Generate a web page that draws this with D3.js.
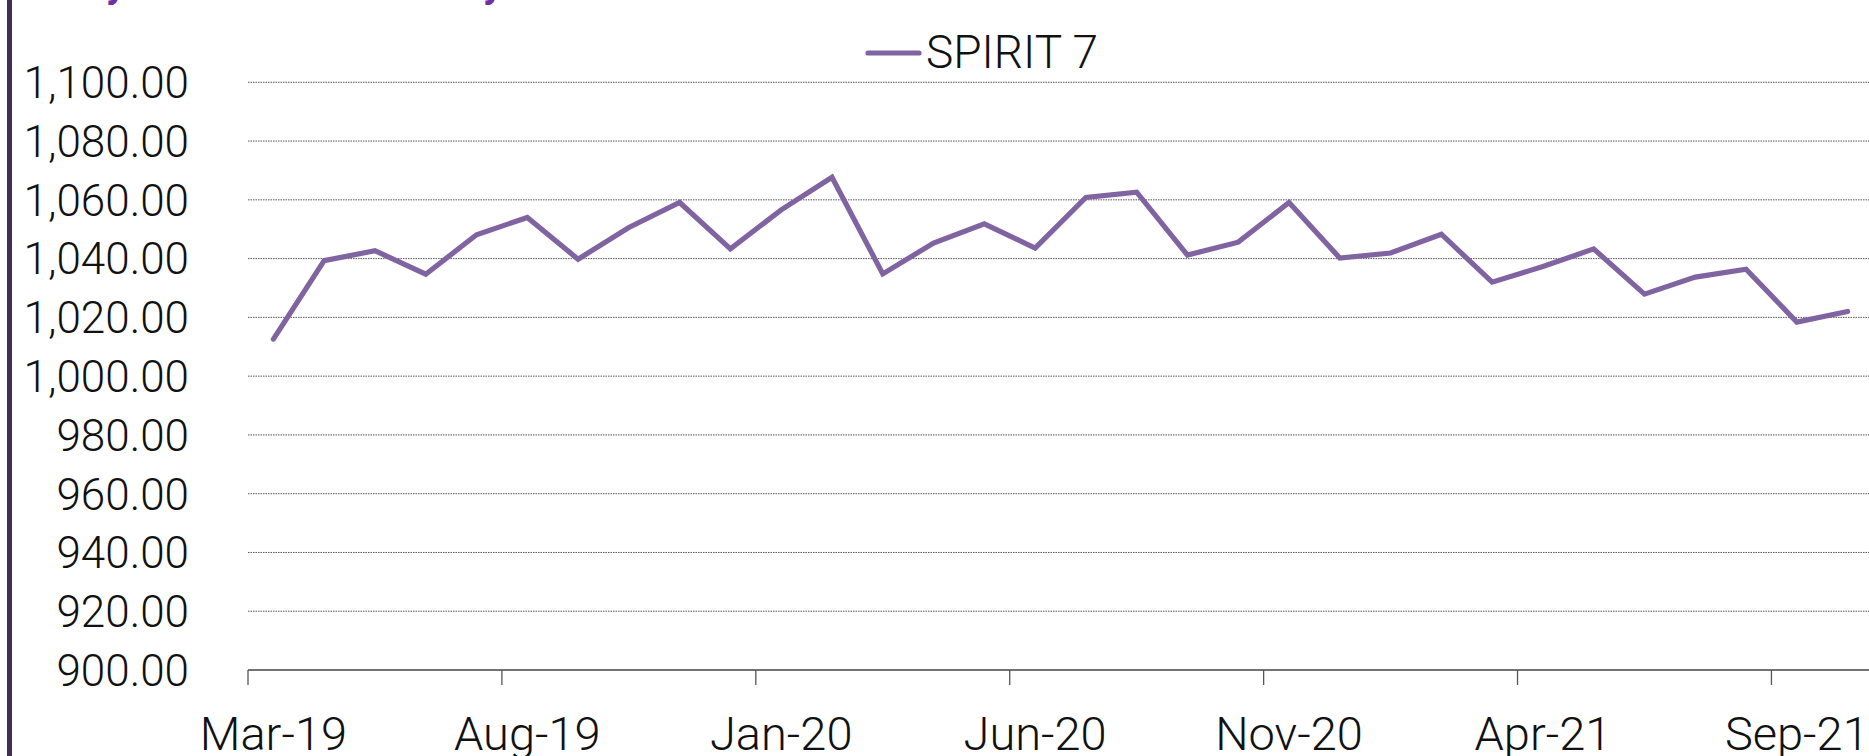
<!DOCTYPE html>
<html>
<head>
<meta charset="utf-8">
<script src="https://cdn.jsdelivr.net/npm/d3@7"></script>
<style>
  html, body { margin: 0; padding: 0; background: #fff; overflow: hidden; }
  svg { display: block; }
  text { font-family: Roboto, "Noto Sans", sans-serif; font-weight: 300; fill: #111; }
</style>
</head>
<body>
<svg id="chart" width="1869" height="756"></svg>
<script>
// ---- data ----
const months = ["Mar-19","Apr-19","May-19","Jun-19","Jul-19","Aug-19","Sep-19","Oct-19","Nov-19","Dec-19",
                "Jan-20","Feb-20","Mar-20","Apr-20","May-20","Jun-20","Jul-20","Aug-20","Sep-20","Oct-20",
                "Nov-20","Dec-20","Jan-21","Feb-21","Mar-21","Apr-21","May-21","Jun-21","Jul-21","Aug-21",
                "Sep-21","Oct-21"];
const spirit7 = [1012.6,1039.3,1042.7,1034.7,1048.1,1054.0,1039.8,1050.6,1059.1,1043.3,
                 1056.6,1067.7,1034.8,1045.3,1051.8,1043.6,1060.8,1062.6,1041.2,1045.6,
                 1059.1,1040.2,1041.9,1048.3,1032.0,1037.3,1043.3,1027.9,1033.7,1036.4,
                 1018.4,1022.0];
const yTicks = [900,920,940,960,980,1000,1020,1040,1060,1080,1100];
const xLabelMonths = ["Mar-19","Aug-19","Jan-20","Jun-20","Nov-20","Apr-21","Sep-21"];
const seriesName = "SPIRIT 7";

// ---- layout ----
const svg = d3.select("#chart");
const plotLeft = 248, plotRight = 1873, plotTop = 82.3, plotBottom = 670;
const color = "#8064a2";

const x = d3.scaleBand().domain(months).range([plotLeft, plotRight]).paddingInner(0).paddingOuter(0);
const y = d3.scaleLinear().domain([900, 1100]).range([plotBottom, plotTop]);

// left decorative border
svg.append("rect").attr("x", 7).attr("y", 0).attr("width", 5).attr("height", 756).attr("fill", "#3f3155");

// clipped title remnants (descenders of a title above the view)
svg.append("text").attr("x", 106).attr("y", -3).attr("font-size", 40).style("font-weight", 700)
   .style("fill", "#7030a0").text("y");
svg.append("text").attr("x", 483).attr("y", -3).attr("font-size", 40).style("font-weight", 700)
   .style("fill", "#7030a0").text("y");

// gridlines
svg.append("g").selectAll("line").data(yTicks.filter(d => d > 900)).join("line")
  .attr("x1", plotLeft).attr("x2", 1869)
  .attr("y1", d => y(d)).attr("y2", d => y(d))
  .attr("stroke", "#555").attr("stroke-width", 1).attr("stroke-dasharray", "1.5,1");

// y labels
svg.append("g").selectAll("text").data(yTicks).join("text")
  .attr("x", 189).attr("y", d => y(d))
  .attr("dy", "0.36em")
  .attr("text-anchor", "end")
  .attr("font-size", 44)
  .text(d => d3.format(",.2f")(d));

// x axis line
svg.append("line").attr("x1", plotLeft).attr("x2", 1869).attr("y1", plotBottom).attr("y2", plotBottom)
  .attr("stroke", "#444").attr("stroke-width", 1.3);

// ticks at category boundaries every 5 months
const tickMonths = months.filter((m, i) => i % 5 === 0);
svg.append("g").selectAll("line").data(tickMonths).join("line")
  .attr("x1", d => x(d)).attr("x2", d => x(d))
  .attr("y1", plotBottom).attr("y2", plotBottom + 15)
  .attr("stroke", "#555").attr("stroke-width", 1.3);

// x labels
svg.append("g").selectAll("text").data(xLabelMonths).join("text")
  .attr("x", d => x(d) + x.bandwidth() / 2)
  .attr("y", 750)
  .attr("text-anchor", "middle")
  .attr("font-size", 47)
  .text(d => d);

// series line
const line = d3.line()
  .x((d, i) => x(months[i]) + x.bandwidth() / 2)
  .y(d => y(d));
svg.append("path").datum(spirit7)
  .attr("d", line)
  .attr("fill", "none")
  .attr("stroke", color)
  .attr("stroke-width", 5.2)
  .attr("stroke-linejoin", "miter")
  .attr("stroke-linecap", "round");

// legend
svg.append("line").attr("x1", 868).attr("x2", 919).attr("y1", 53).attr("y2", 53)
  .attr("stroke", color).attr("stroke-width", 5.2).attr("stroke-linecap", "round");
svg.append("text").attr("x", 926).attr("y", 68).attr("font-size", 46).text(seriesName);
</script>
</body>
</html>
